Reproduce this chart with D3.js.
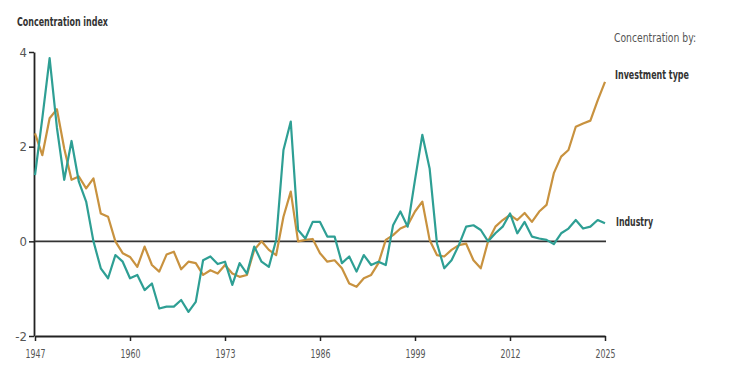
<!DOCTYPE html>
<html lang="en">
<head>
    <meta charset="UTF-8">
    <script src="https://cdn.jsdelivr.net/npm/d3@7.8.5/dist/d3.min.js"></script>
    <title>Concentration index</title>
    <style>
        body { margin: 0; background: #fff; }
        text { font-family: "Liberation Sans Narrow", "DejaVu Sans Condensed", sans-serif; }
        .line { fill: none; stroke-width: 2.2; stroke-linejoin: round; }
    </style>
</head>
<body onload="main()">
    <svg width="746" height="384"></svg>
    <script type="text/javascript">
        // chart data
        var firstYear = 1947;
        var industry = [1.40, 2.60, 3.87, 2.40, 1.30, 2.12, 1.26, 0.84, 0.00, -0.57,
            -0.78, -0.29, -0.43, -0.78, -0.71, -1.03, -0.89, -1.42, -1.38, -1.38,
            -1.24, -1.49, -1.28, -0.40, -0.32, -0.48, -0.43, -0.92, -0.46, -0.68,
            -0.11, -0.43, -0.54, 0.03, 1.93, 2.53, 0.24, 0.06, 0.41, 0.41,
            0.10, 0.10, -0.46, -0.32, -0.64, -0.29, -0.50, -0.43, -0.50, 0.34,
            0.63, 0.31, 1.30, 2.25, 1.54, -0.04, -0.57, -0.40, -0.08, 0.31,
            0.34, 0.24, 0.00, 0.17, 0.31, 0.59, 0.17, 0.41, 0.10, 0.06,
            0.03, -0.06, 0.17, 0.27, 0.45, 0.27, 0.31, 0.45, 0.38];
        var investmentType = [2.28, 1.82, 2.60, 2.79, 1.96, 1.30, 1.37, 1.12, 1.33, 0.59,
            0.52, 0.00, -0.25, -0.33, -0.54, -0.11, -0.50, -0.64, -0.28, -0.22,
            -0.59, -0.43, -0.46, -0.71, -0.61, -0.68, -0.50, -0.68, -0.75, -0.71,
            -0.18, 0.00, -0.18, -0.29, 0.52, 1.05, 0.00, 0.03, 0.05, -0.25,
            -0.43, -0.40, -0.57, -0.89, -0.96, -0.78, -0.71, -0.46, 0.03, 0.13,
            0.27, 0.34, 0.63, 0.84, 0.03, -0.29, -0.32, -0.18, -0.08, -0.05,
            -0.40, -0.57, 0.00, 0.31, 0.45, 0.56, 0.45, 0.60, 0.41, 0.63,
            0.77, 1.44, 1.79, 1.93, 2.42, 2.49, 2.55, 2.98, 3.37];
        var xTicks = [1947, 1960, 1973, 1986, 1999, 2012, 2025];
        var yTicks = [-2, 0, 2, 4];

        function main() {
            var svg = d3.select("svg");

            var x = d3.scaleLinear().domain([1947, 2025]).range([35, 605]);
            var y = d3.scaleLinear().domain([-2, 4]).range([336, 52]);

            // axes
            var yAxis = svg.append("g")
                .attr("transform", "translate(34,0)")
                .call(d3.axisLeft(y).tickValues(yTicks).tickFormat(function(d) { return d < 0 ? "-" + (-d) : "" + d; })
                    .tickSize(5).tickSizeOuter(0).tickPadding(2));
            var xAxis = svg.append("g")
                .attr("transform", "translate(0,336)")
                .call(d3.axisBottom(x).tickValues(xTicks).tickFormat(d3.format("d")).tickSize(5).tickSizeOuter(0).tickPadding(8));

            [yAxis, xAxis].forEach(function(a) {
                a.select(".domain").attr("stroke", "#222").attr("stroke-width", 1.8);
                a.selectAll(".tick line").attr("stroke", "#222").attr("stroke-width", 1.5);
                a.selectAll(".tick text").attr("fill", "#555").attr("font-size", 13)
                    .attr("font-family", "'Liberation Sans Narrow', 'DejaVu Sans Condensed', sans-serif");
            });
            // year labels are narrow in the reference
            xAxis.selectAll(".tick text").attr("textLength", 20).attr("lengthAdjust", "spacingAndGlyphs");

            // zero line
            svg.append("line")
                .attr("x1", x(1947)).attr("x2", x(2025) + 1)
                .attr("y1", y(0)).attr("y2", y(0))
                .attr("stroke", "#333").attr("stroke-width", 1.8);

            var line = function(values) {
                return d3.line()
                    .x(function(d, i) { return x(firstYear + i); })
                    .y(function(d) { return y(d); })(values);
            };

            svg.append("path").attr("class", "line")
                .attr("d", line(investmentType)).attr("stroke", "#c8923f");
            svg.append("path").attr("class", "line")
                .attr("d", line(industry)).attr("stroke", "#2e9f94");

            // title and labels
            svg.append("text").attr("x", 17).attr("y", 26)
                .attr("font-size", 12).attr("font-weight", "bold").attr("fill", "#333")
                .attr("textLength", 91).attr("lengthAdjust", "spacingAndGlyphs")
                .text("Concentration index");
            svg.append("text").attr("x", 614).attr("y", 42)
                .attr("font-size", 12).attr("fill", "#555")
                .attr("textLength", 82).attr("lengthAdjust", "spacingAndGlyphs")
                .text("Concentration by:");
            svg.append("text").attr("x", 615).attr("y", 79)
                .attr("font-size", 12).attr("font-weight", "bold").attr("fill", "#333")
                .attr("textLength", 74).attr("lengthAdjust", "spacingAndGlyphs")
                .text("Investment type");
            svg.append("text").attr("x", 616).attr("y", 226)
                .attr("font-size", 12).attr("font-weight", "bold").attr("fill", "#333")
                .attr("textLength", 37).attr("lengthAdjust", "spacingAndGlyphs")
                .text("Industry");
        }
    </script>
</body>
</html>
